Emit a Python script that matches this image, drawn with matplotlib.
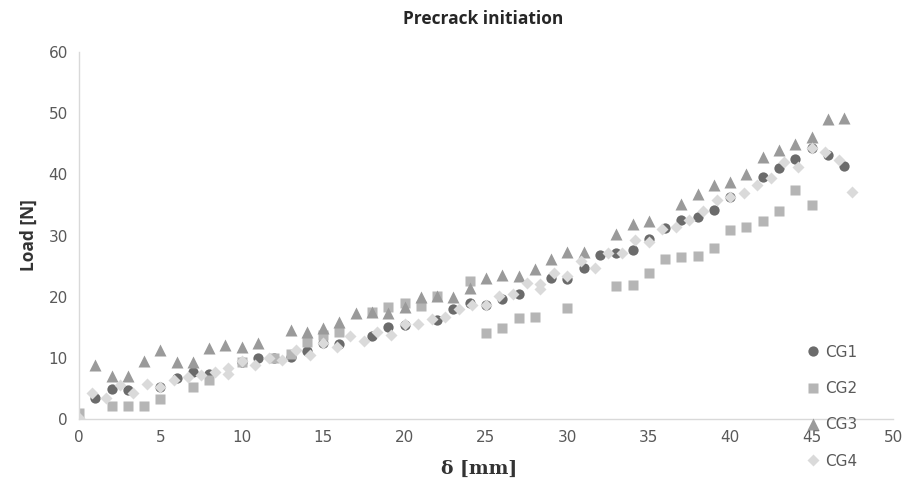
import matplotlib
matplotlib.use('Agg')
import matplotlib.pyplot as plt

# CG1 - dark circles
cg1_x = [1, 2, 3, 5, 6, 7, 8, 10, 11, 12, 13, 14, 15, 16, 18, 19, 20, 22, 23,
         24, 25, 26, 27, 29, 30, 31, 32, 33, 34, 35, 36, 37, 38, 39, 40, 42,
         43, 44, 45, 46, 47]
cg1_y = [3.4, 4.9, 4.8, 5.3, 6.7, 7.7, 7.4, 9.4, 9.9, 9.9, 10.2, 11.1, 12.4,
         12.3, 13.6, 15.1, 15.4, 16.2, 18.0, 18.9, 18.7, 19.6, 20.5, 23.1,
         22.9, 24.7, 26.8, 27.2, 27.6, 29.4, 31.3, 32.6, 33.1, 34.2, 36.3,
         39.6, 41.0, 42.5, 44.3, 43.1, 41.3]

# CG2 - light squares
cg2_x = [0, 2, 3, 4, 5, 7, 8, 10, 12, 13, 14, 15, 16, 18, 19, 20, 21, 22, 24,
         25, 26, 27, 28, 30, 33, 34, 35, 36, 37, 38, 39, 40, 41, 42, 43, 44, 45]
cg2_y = [1.0, 2.1, 2.1, 2.1, 3.3, 5.3, 6.4, 9.4, 10.0, 10.7, 12.6, 13.7, 14.3,
         17.5, 18.3, 18.9, 18.5, 20.1, 22.5, 14.0, 14.9, 16.5, 16.7, 18.1,
         21.8, 21.9, 23.9, 26.1, 26.5, 26.6, 27.9, 30.9, 31.4, 32.4, 34.0,
         37.4, 35.0]

# CG3 - medium triangles
cg3_x = [1, 2, 3, 4, 5, 6, 7, 8, 9, 10, 11, 13, 14, 15, 16, 17, 18, 19, 20,
         21, 22, 23, 24, 25, 26, 27, 28, 29, 30, 31, 33, 34, 35, 37, 38, 39,
         40, 41, 42, 43, 44, 45, 46, 47]
cg3_y = [8.8, 7.0, 7.0, 9.5, 11.3, 9.4, 9.4, 11.6, 12.1, 11.8, 12.4, 14.5,
         14.3, 14.9, 15.8, 17.3, 17.5, 17.3, 18.3, 20.0, 20.1, 20.0, 21.4,
         23.0, 23.6, 23.3, 24.5, 26.1, 27.3, 27.3, 30.2, 31.9, 32.4, 35.1,
         36.8, 38.3, 38.8, 40.0, 42.8, 44.0, 44.9, 46.1, 49.0, 49.2]

# CG4 - very light diamonds
cg4_x = [0.0, 0.83, 1.67, 2.5, 3.33, 4.17, 5.0, 5.83, 6.67, 7.5, 8.33, 9.17,
         9.17, 10.0, 10.83, 11.67, 12.5, 13.33, 14.17, 15.0, 15.83, 16.67,
         17.5, 18.33, 19.17, 20.0, 20.83, 21.67, 22.5, 23.33, 24.17, 25.0,
         25.83, 26.67, 27.5, 28.33, 28.33, 29.17, 30.0, 30.83, 31.67, 32.5,
         33.33, 34.17, 35.0, 35.83, 36.67, 37.5, 38.33, 39.17, 40.0, 40.83,
         41.67, 42.5, 43.33, 44.17, 45.0, 45.83, 46.67, 47.5]
cg4_y = [0.2, 4.3, 3.4, 5.6, 4.2, 5.7, 5.3, 6.4, 6.8, 7.2, 7.7, 8.3, 7.4, 9.5,
         8.8, 10.0, 9.6, 11.3, 10.5, 12.4, 11.7, 13.5, 12.7, 14.3, 13.7, 15.5,
         15.6, 16.3, 16.7, 18.0, 18.7, 18.6, 20.1, 20.5, 22.2, 22.0, 21.2,
         23.8, 23.3, 25.8, 24.7, 27.2, 27.1, 29.2, 29.0, 31.0, 31.4, 32.5,
         34.0, 35.8, 36.3, 36.9, 38.3, 39.4, 42.0, 41.2, 44.3, 43.7, 42.3,
         37.1]

x_ticks = list(range(0, 51, 5))
y_ticks = list(range(0, 61, 10))

fig = plt.figure(figsize=(9.16, 4.87), dpi=100)
ax = fig.add_axes([0.0862, 0.1396, 0.8887, 0.7536])

ax.plot(cg1_x, cg1_y, 'o', color='#6b6b6b', markersize=7.4, mec='none', label='CG1')
ax.plot(cg2_x, cg2_y, 's', color='#b5b5b5', markersize=7.0, mec='none', label='CG2')
ax.plot(cg3_x, cg3_y, '^', color='#9a9a9a', markersize=8.0, mec='none', label='CG3')
ax.plot(cg4_x, cg4_y, 'D', color='#dadada', markersize=6.0, mec='none', label='CG4')

ax.set_xlim(0, 50)
ax.set_ylim(0, 60)
ax.set_xticks(x_ticks)
ax.set_yticks(y_ticks)
ax.tick_params(length=0, labelsize=11, labelcolor='#595959', pad=8)
for s in ['top', 'right']:
    ax.spines[s].set_visible(False)
for s in ['left', 'bottom']:
    ax.spines[s].set_color('#d9d9d9')
    ax.spines[s].set_linewidth(1.0)

fig.text(0.527, 0.962, 'Precrack initiation', ha='center', va='center',
         fontsize=12.5, fontweight='bold', color='#262626', family='Open Sans')
ax.set_ylabel('Load [N]', fontsize=12.5, fontweight='bold', color='#333333',
              family='Open Sans', labelpad=8)
fig.text(0.523, 0.038, 'δ [mm]', ha='center', va='center', fontsize=13.5,
         fontweight='bold', color='#333333', family='DejaVu Serif')

fig.legend(loc='center left', bbox_to_anchor=(0.872, 0.165), frameon=False,
           fontsize=11, labelcolor='#595959', handlelength=0.8,
           handletextpad=0.4, labelspacing=1.4, borderpad=0)

fig.savefig('out.png', dpi=100)
